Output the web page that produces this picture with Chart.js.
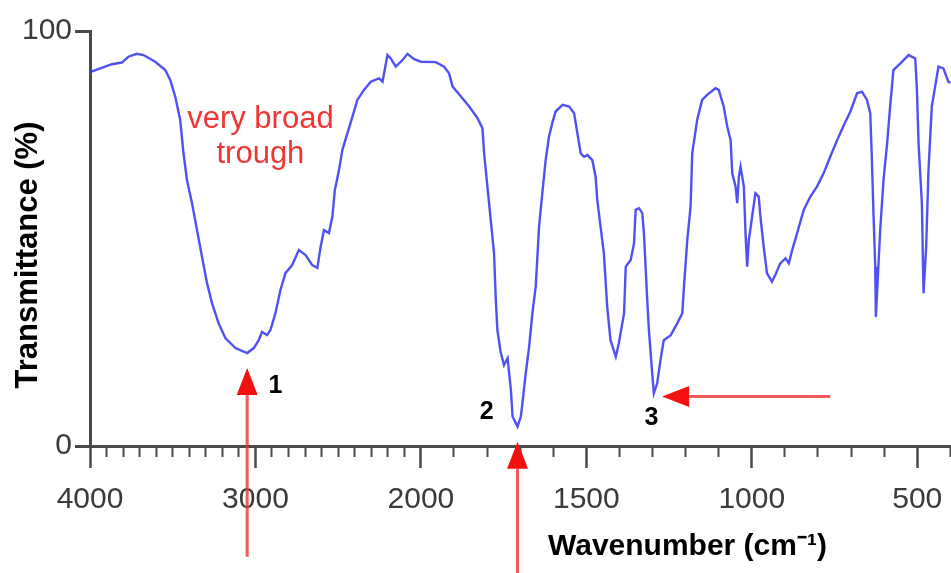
<!DOCTYPE html>
<html>
<head>
<meta charset="utf-8">
<script src="https://cdn.jsdelivr.net/npm/chart.js@4.4.1/dist/chart.umd.min.js"></script>
<style>
html,body{margin:0;padding:0;background:#ffffff;}
#wrap{width:951px;height:573px;position:relative;overflow:hidden;}
canvas{display:block;}
</style>
</head>
<body>
<div id="wrap"><canvas id="c" width="951" height="573"></canvas></div>
<script>
// ---- data ----
const wavenumbers = [
  4000,3950,3868,3808,3768,3717,3677,3606,3545,3515,3485,3455,3435,3414,3384,3353,3323,3293,3263,3223,
  3182,3121,3050,3010,2980,2960,2929,2909,2879,2849,2818,2778,2738,2697,2657,2626,2606,2586,2556,2535,
  2520,2495,2475,2444,2414,2384,2344,2303,2253,2232,2202,2182,2152,2111,2081,2041,2000,1955,1930,1915,
  1904,1879,1854,1829,1814,1809,1799,1789,1779,1774,1769,1759,1749,1738,1728,1723,1708,1698,1693,1683,
  1673,1663,1653,1643,1633,1623,1613,1603,1593,1572,1552,1537,1527,1517,1507,1497,1482,1472,1467,1457,
  1447,1437,1427,1411,1402,1386,1381,1366,1356,1351,1341,1331,1326,1321,1316,1311,1301,1296,1286,1276,
  1266,1245,1225,1210,1205,1195,1185,1180,1165,1150,1135,1110,1100,1085,1074,1064,1059,1049,1044,1039,
  1034,1024,1019,1014,1009,999,989,979,974,964,954,939,929,914,898,888,878,863,843,823,
  803,783,763,742,722,702,682,667,652,642,637,632,627,625,612,602,591,582,572,551,
  526,506,501,496,486,481,473,466,456,446,436,421,406,400
];
const transmittance = [
  90.1,90.8,92.0,92.4,93.8,94.5,94.2,92.6,90.6,88.2,84.2,78.6,70.6,64.1,58.6,52.0,45.6,39.3,34.5,29.6,
  26.0,23.6,22.4,23.6,25.5,27.5,26.7,28.0,32.0,37.6,41.7,43.6,47.2,46.0,43.6,42.9,48.0,52.0,51.3,55.3,
  61.7,66.5,71.3,75.4,79.3,83.4,85.8,87.8,88.6,87.8,94.2,93.4,91.4,93.0,94.5,93.2,92.6,92.5,91.4,89.8,
  86.6,84.2,81.8,79.0,76.6,70.6,62.5,54.5,46.5,36.0,28.0,22.7,19.5,21.2,13.5,7.1,4.7,7.1,10.4,17.6,
  23.9,32.0,38.4,52.8,61.0,68.9,74.5,77.8,80.6,82.2,81.8,80.2,75.3,70.5,69.7,70.1,68.9,64.9,59.3,52.8,
  46.4,33.6,25.5,21.5,24.7,32.0,43.2,44.8,48.8,56.9,57.3,56.1,51.3,43.2,35.2,28.0,17.5,12.7,15.1,20.7,
  25.5,26.7,29.6,32.0,38.4,49.6,57.7,70.5,78.6,83.4,84.6,86.2,85.8,81.8,76.9,73.7,65.7,62.5,58.5,64.9,
  67.3,62.5,51.3,43.2,49.6,55.3,60.9,60.1,55.3,48.0,41.6,39.6,41.2,44.0,45.2,44.0,47.2,51.3,56.9,60.1,
  62.5,65.7,69.7,73.7,77.3,80.6,85.0,85.4,83.4,80.2,68.9,55.3,43.2,31.1,52.0,64.1,72.9,81.8,90.6,92.2,
  94.2,93.4,85.8,72.9,58.5,36.8,48.0,66.5,81.8,86.6,91.4,91.0,87.8,87.5
];
const majorTicks = [4000,3000,2000,1500,1000,500];
const minorTicks = [3900,3800,3700,3600,3500,3400,3300,3200,3100,2900,2800,2700,2600,2500,2400,2300,2200,2100,
                    1900,1800,1700,1600,1400,1300,1200,1100,900,800,700,600,400];
const yTicks = [0,100];
const xRange = [4000,398];
const xTitle = 'Wavenumber (cm\u207B\u00B9)';
const yTitle = 'Transmittance (%)';
const noteLines = ['very broad','trough'];
const notePos = [[2970,76.6],[2970,68.2]];
const peakLabels = ['1','2','3'];
const peakLabelPos = [[2879,14.5],[1801,8.2],[1303,6.7]];
const arrows = [
  {from:[3050,-26.7], to:[3050,18.8]},
  {from:[1708,-32],   to:[1708,1.0]},
  {from:[763,11.9],   to:[1271,11.9]}
];

// IR spectra use a scale change at 2000 cm-1 (2x expansion below 2000)
function toU(w){ return w >= 2000 ? (4000 - w) / 2 : 1000 + (2000 - w); }
function fromU(u){ return u <= 1000 ? 4000 - 2 * u : 2000 - (u - 1000); }

const FONT = '"Liberation Sans", Arial, Helvetica, sans-serif';
const AXIS = '#4a4a4a';

const annotPlugin = {
  id: 'annot',
  afterDraw(chart){
    const {ctx, chartArea} = chart;
    const xs = chart.scales.x, ys = chart.scales.y;
    const px = w => xs.getPixelForValue(toU(w));
    const py = t => ys.getPixelForValue(t);
    ctx.save();
    // red note
    ctx.fillStyle = '#f03535';
    ctx.font = '31px ' + FONT;
    ctx.textAlign = 'center';
    ctx.textBaseline = 'alphabetic';
    noteLines.forEach((s,i) => ctx.fillText(s, px(notePos[i][0]), py(notePos[i][1])));
    // arrows
    arrows.forEach(a => {
      const x1 = px(a.from[0]), y1 = py(a.from[1]);
      const x2 = px(a.to[0]), y2 = py(a.to[1]);
      const ang = Math.atan2(y2 - y1, x2 - x1);
      const hl = 27, hw = 10.5;
      const bx = x2 - hl * Math.cos(ang), by = y2 - hl * Math.sin(ang);
      ctx.strokeStyle = 'rgba(240,50,50,0.8)';
      ctx.lineWidth = 3;
      ctx.beginPath(); ctx.moveTo(x1, y1); ctx.lineTo(bx, by); ctx.stroke();
      ctx.fillStyle = '#f21010';
      ctx.beginPath();
      ctx.moveTo(x2, y2);
      ctx.lineTo(bx + hw * Math.sin(ang), by - hw * Math.cos(ang));
      ctx.lineTo(bx - hw * Math.sin(ang), by + hw * Math.cos(ang));
      ctx.closePath(); ctx.fill();
    });
    // peak numbers
    ctx.fillStyle = '#000';
    ctx.font = 'bold 25px ' + FONT;
    ctx.textAlign = 'center';
    ctx.textBaseline = 'middle';
    peakLabels.forEach((s,i) => ctx.fillText(s, px(peakLabelPos[i][0]), py(peakLabelPos[i][1])));
    // axis titles
    ctx.font = 'bold 30px ' + FONT;
    ctx.textAlign = 'left';
    ctx.textBaseline = 'alphabetic';
    ctx.fillText(xTitle, chartArea.left + 458, chartArea.bottom + 109);
    ctx.save();
    ctx.translate(chartArea.left - 53, chartArea.top + 224);
    ctx.rotate(-Math.PI / 2);
    ctx.font = 'bold 31px ' + FONT;
    ctx.textAlign = 'center';
    ctx.fillText(yTitle, 0, 0);
    ctx.restore();
    ctx.restore();
  }
};

new Chart(document.getElementById('c'), {
  type: 'scatter',
  data: {
    datasets: [{
      data: wavenumbers.map((w, i) => ({x: toU(w), y: transmittance[i]})),
      showLine: true,
      borderColor: 'rgba(50,50,240,0.85)',
      borderWidth: 2.4,
      pointRadius: 0,
      tension: 0,
      fill: false
    }]
  },
  options: {
    responsive: false,
    animation: false,
    layout: {padding: {top: 31, left: 0, right: 0, bottom: 0}},
    plugins: {legend: {display: false}, tooltip: {enabled: false}, title: {display: false}},
    scales: {
      x: {
        type: 'linear', position: 'bottom',
        min: toU(xRange[0]), max: toU(xRange[1]),
        afterBuildTicks: s => { s.ticks = majorTicks.map(w => ({value: toU(w)})); },
        afterFit: s => { s.height = 127; s.paddingLeft = 0; s.paddingRight = 0; },
        ticks: {
          autoSkip: false, maxRotation: 0, minRotation: 0, padding: 14,
          color: '#3a3a3a', font: {family: FONT, size: 30},
          callback: v => String(Math.round(fromU(v)))
        },
        grid: {drawOnChartArea: false, drawTicks: true, tickLength: 22, tickColor: AXIS, tickWidth: 2.5},
        border: {display: true, color: AXIS, width: 3}
      },
      xMinor: {
        type: 'linear', axis: 'x', position: {y: 0},
        min: toU(xRange[0]), max: toU(xRange[1]),
        afterBuildTicks: s => { s.ticks = minorTicks.map(w => ({value: toU(w)})); },
        ticks: {display: false},
        grid: {drawOnChartArea: false, drawTicks: true, tickLength: 11, tickColor: AXIS, tickWidth: 2},
        border: {display: false}
      },
      y: {
        type: 'linear', position: 'left',
        min: 0, max: 100,
        afterBuildTicks: s => { s.ticks = yTicks.map(v => ({value: v})); },
        afterFit: s => { s.width = 90; },
        ticks: {padding: 3, color: '#3a3a3a', font: {family: FONT, size: 30}},
        grid: {drawOnChartArea: false, drawTicks: true, tickLength: 15, tickColor: AXIS, tickWidth: 3},
        border: {display: true, color: AXIS, width: 3}
      }
    }
  },
  plugins: [annotPlugin]
});
</script>
</body>
</html>
